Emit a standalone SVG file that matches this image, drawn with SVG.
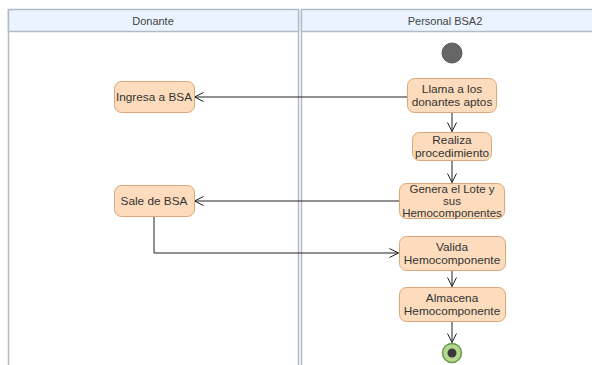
<svg xmlns="http://www.w3.org/2000/svg" width="592" height="365" viewBox="0 0 592 365">
  <defs>
    <marker id="open" markerWidth="12" markerHeight="12" refX="10" refY="6" orient="auto" markerUnits="userSpaceOnUse">
      <path d="M1,1.5 L10,6 L1,10.5" fill="none" stroke="#222" stroke-width="1"/>
    </marker>
  </defs>
  <style>
    .lane { fill: #ffffff; stroke: #b2bac6; stroke-width: 1.5; }
    .head { fill: #eaf3fe; stroke: #b2bac6; stroke-width: 1.5; }
    .htxt { font-family: "Liberation Sans", Arial, sans-serif; font-size: 11px; fill: #444; text-anchor: middle; }
    .act { fill: #fcdcbd; stroke: #d8a878; stroke-width: 1; }
    .txt { font-family: "Liberation Sans", Arial, sans-serif; font-size: 11.8px; fill: #333; text-anchor: middle; }
    .tight { font-size: 11.5px; }
    .flow { fill: none; stroke: #222; stroke-width: 1; marker-end: url(#open); }
  </style>
  <rect width="592" height="365" fill="#ffffff"/>

  <!-- swimlanes -->
  <g id="lane-donante">
    <path class="lane" d="M8.5,9.5 V365 M298.5,9.5 V365"/>
    <rect class="head" x="8.5" y="9.5" width="290" height="22"/>
    <text class="htxt" x="153" y="24.5">Donante</text>
  </g>
  <g id="lane-personal">
    <path class="lane" d="M301.5,9.5 V365"/>
    <rect class="head" x="301.5" y="9.5" width="296" height="22"/>
    <text class="htxt" x="445" y="24.5">Personal BSA2</text>
  </g>

  <!-- connectors -->
  <g id="connectors">
    <path class="flow" d="M407,97 H194.5"/>
    <path class="flow" d="M452,113 V131.5"/>
    <path class="flow" d="M452,160 V182.5"/>
    <path class="flow" d="M399,201 H194.5"/>
    <path class="flow" d="M154,216 V253 H398.5"/>
    <path class="flow" d="M452,270 V286.5"/>
    <path class="flow" d="M452,322 V342.5"/>
  </g>

  <!-- nodes -->
  <g id="start">
    <circle cx="452" cy="53" r="10" fill="#666666" stroke="#5a5a5a"/>
  </g>
  <g id="llama">
    <rect class="act" x="407.5" y="78.5" width="89" height="34" rx="7"/>
    <text class="txt" x="452" y="93">Llama a los</text>
    <text class="txt" x="452" y="106">donantes aptos</text>
  </g>
  <g id="realiza">
    <rect class="act" x="412.5" y="132.5" width="79" height="28" rx="7"/>
    <text class="txt" x="452" y="144">Realiza</text>
    <text class="txt" x="452" y="157">procedimiento</text>
  </g>
  <g id="genera">
    <rect class="act" x="399.5" y="183.5" width="105" height="35" rx="7"/>
    <text class="txt tight" x="452" y="192.5">Genera el Lote y</text>
    <text class="txt tight" x="452" y="204.5">sus</text>
    <text class="txt tight" x="452" y="216.5">Hemocomponentes</text>
  </g>
  <g id="valida">
    <rect class="act" x="399.5" y="236.5" width="106" height="34" rx="7"/>
    <text class="txt" x="452" y="251">Valida</text>
    <text class="txt" x="452" y="264">Hemocomponente</text>
  </g>
  <g id="almacena">
    <rect class="act" x="399.5" y="287.5" width="106" height="34" rx="7"/>
    <text class="txt" x="452" y="302">Almacena</text>
    <text class="txt" x="452" y="315">Hemocomponente</text>
  </g>
  <g id="end">
    <circle cx="452" cy="353" r="9.5" fill="#b5d98f" stroke="#6a9a4a" stroke-width="1.5"/>
    <circle cx="452" cy="353" r="4.5" fill="#3a3a3a"/>
  </g>
  <g id="ingresa">
    <rect class="act" x="114.5" y="81.5" width="80" height="31" rx="7"/>
    <text class="txt" x="154" y="101">Ingresa a BSA</text>
  </g>
  <g id="sale">
    <rect class="act" x="114.5" y="185.5" width="80" height="31" rx="7"/>
    <text class="txt" x="154" y="205">Sale de BSA</text>
  </g>
</svg>
